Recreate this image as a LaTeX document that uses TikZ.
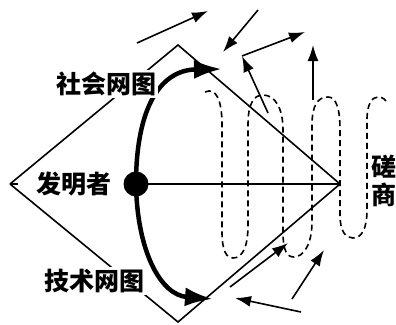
\documentclass[tikz,border=0pt]{standalone}
\usepackage{fontspec}
\newfontfamily\cjk{Noto Sans CJK SC}
\usetikzlibrary{arrows.meta}

\begin{document}
\begin{tikzpicture}[
	x=1pt, y=-1pt,
	every node/.style={font=\cjk\bfseries\fontsize{25}{28}\selectfont},
	edge/.style={line width=1.6pt},
	flow/.style={line width=1.6pt, -{Latex[length=16pt,width=11pt]}},
	net/.style={line width=4.5pt, -{Latex[length=28pt,width=19pt]}},
	coil/.style={line width=1.6pt, dash pattern=on 6pt off 4pt},
	lab/.style={fill=white, inner sep=2pt}
	]
	\useasboundingbox (0,0) rectangle (396,324);
	
	%--- corners of the frame ---
	\coordinate (L) at (10,184);
	\coordinate (T) at (178,45);
	\coordinate (B) at (178,322);
	\coordinate (R) at (340,184);
	\coordinate (tick) at (18,184);
	\coordinate (sn) at (222,69);
	\coordinate (tn) at (213,299);
	
	%--- frame and axis ---
	\draw[edge] (L) -- (T) -- (R);
	\draw[edge] (L) -- (B) -- (R);
	\draw[edge] (L) -- (tick);
	\node[circle, fill, inner sep=0pt, minimum size=25pt] (inv) at (136,184) {};
	\draw[edge] (inv.center) -- (R);
	
	%--- the two networks ---
	\draw[net] (inv.center) .. controls (136,112) and (158,70) .. (sn);
	\draw[net] (inv.center) .. controls (137,250) and (160,295) .. (tn);
	
	%--- negotiation coil ---
	\draw[coil] (205,92) .. controls (216,87) and (222,100) .. (222,125)
		-- (222,232) .. controls (222,252) and (227,258) .. (233,258)
		.. controls (242,258) and (248,248) .. (248,225)
		-- (248,125) .. controls (248,103) and (254,95) .. (263,95)
		.. controls (275,95) and (283,108) .. (283,130)
		-- (283,232) .. controls (283,251) and (287,257) .. (294,257)
		.. controls (303,257) and (312,245) .. (312,222)
		-- (312,125) .. controls (312,105) and (318,97) .. (328,97)
		.. controls (336,97) and (340,108) .. (340,130)
		-- (340,215) .. controls (340,232) and (346,238) .. (353,238)
		.. controls (362,238) and (367,228) .. (367,210)
		-- (367,120) .. controls (367,104) and (372,97) .. (378,97)
		.. controls (383,97) and (386,100) .. (388,104);
	
	%--- free arrows ---
	\coordinate (f1a) at (137,43);  \coordinate (f1b) at (208,11);
	\coordinate (f2a) at (258,10);  \coordinate (f2b) at (223,52);
	\coordinate (f3a) at (268,113); \coordinate (f3b) at (242,56);
	\coordinate (f3c) at (305,32);
	\coordinate (f4a) at (313,100); \coordinate (f4b) at (313,45);
	\coordinate (f5a) at (230,287); \coordinate (f5b) at (288,243);
	\coordinate (f6a) at (292,299); \coordinate (f6b) at (324,250);
	\coordinate (f7a) at (301,312); \coordinate (f7b) at (235,298);
	
	\draw[flow] (f1a) -- (f1b);
	\draw[flow] (f2a) -- (f2b);
	\draw[flow] (f3a) -- (f3b);
	\draw[flow] (f3b) -- (f3c);
	\draw[flow] (f4a) -- (f4b);
	\draw[flow] (f5a) -- (f5b);
	\draw[flow] (f6a) -- (f6b);
	\draw[flow] (f7a) -- (f7b);
	
	%--- labels ---
	\node[lab] (social) at (106,84) {社会网图};
	\node[lab] (tech) at (94,281) {技术网图};
	\node (inventor) at (74,184) {发明者};
	\node[align=center, inner sep=0pt] (nego) at (384,181) {磋\\商};
	
\end{tikzpicture}
\end{document}
